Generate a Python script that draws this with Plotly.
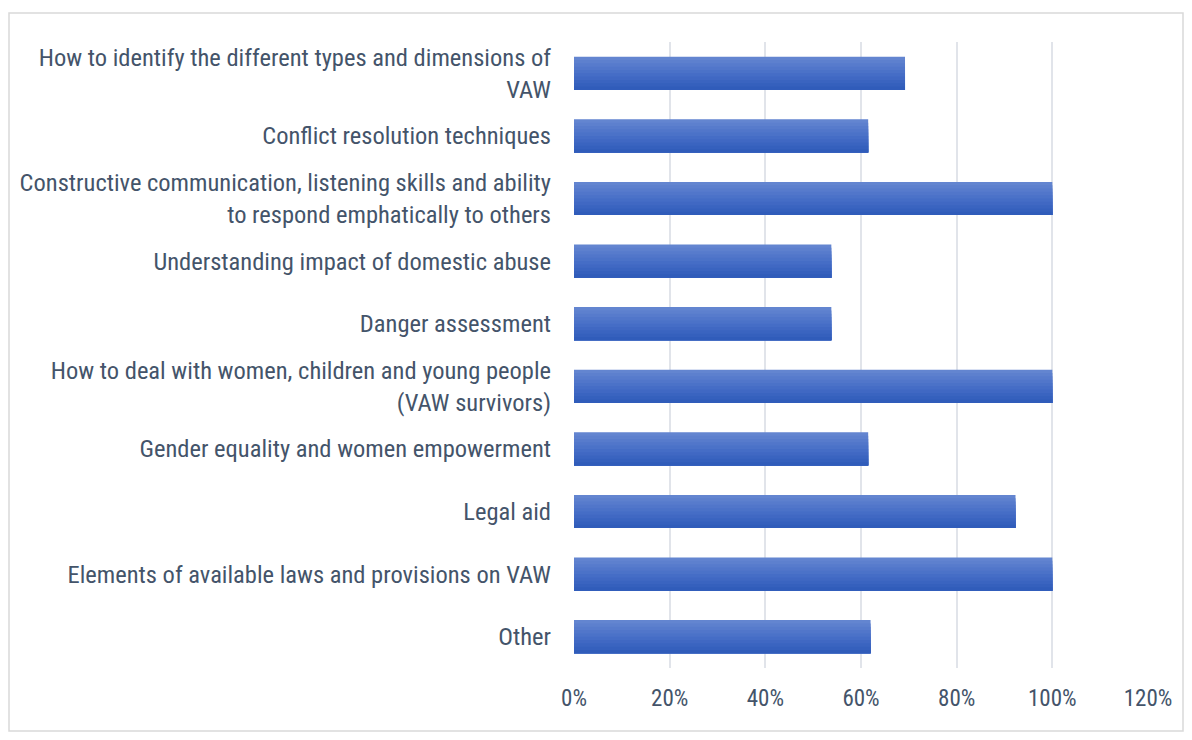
import plotly.graph_objects as go

categories = [
    "How to identify the different types and dimensions of<br>VAW",
    "Conflict resolution techniques",
    "Constructive communication, listening skills and ability<br>to respond emphatically to others",
    "Understanding impact of domestic abuse",
    "Danger assessment",
    "How to deal with women, children and young people<br>(VAW survivors)",
    "Gender equality and women empowerment",
    "Legal aid",
    "Elements of available laws and provisions on VAW",
    "Other",
]
values = [0.692, 0.615, 1.0, 0.538, 0.538, 1.0, 0.615, 0.923, 1.0, 0.62]
x_ticks = [0, 0.2, 0.4, 0.6, 0.8, 1.0, 1.2]
x_tick_labels = ["0%", "20%", "40%", "60%", "80%", "100%", "120%"]

# gradient approximation: layered bands, top (light) to bottom (dark)
stripe_colors = ["#6385D0", "#5D80CE", "#577BCC", "#5176CA", "#4B72C8", "#456DC6",
                 "#4068C3", "#3A64C0", "#3560BD", "#305CBA"]
bar_w = 0.53
n = len(stripe_colors)
sw = bar_w / n

fig = go.Figure()
for i, c in enumerate(stripe_colors):
    fig.add_trace(go.Bar(
        x=values, y=categories, orientation="h",
        marker=dict(color=c, line=dict(width=0)),
        width=bar_w - i * sw, offset=-bar_w / 2 + i * sw,
        hoverinfo="x+y", showlegend=False,
    ))

# page body has an 8px margin; figure coordinates are screen - 8
W, H = 1176, 724
L, R, T, B = 566, 36, 34, 64
pw, ph = W - L - R, H - T - B

fig.update_layout(
    width=W, height=H,
    margin=dict(l=L, r=R, t=T, b=B),
    paper_bgcolor="white", plot_bgcolor="white",
    barmode="overlay",
    font=dict(family="Liberation Sans Narrow, Roboto Condensed, DejaVu Sans Condensed, sans-serif", size=24.5, color="#44546A"),
    xaxis=dict(
        range=[0, 1.2], tickvals=x_ticks, ticktext=x_tick_labels,
        tickfont=dict(size=23),
        showgrid=True, gridcolor="#E1E4EA", gridwidth=2,
        zeroline=False, showline=False, ticks="", ticklabelstandoff=14,
    ),
    yaxis=dict(
        autorange="reversed", showgrid=False, zeroline=False, showline=False,
        ticks="", ticklabelstandoff=22,
    ),
    shapes=[dict(
        type="rect", xref="paper", yref="paper",
        x0=(1 - L) / pw, x1=(1175 - L) / pw,
        y0=(H - B - 723) / ph, y1=(H - B - 5) / ph,
        line=dict(color="#D9D9D9", width=1.5), fillcolor="rgba(0,0,0,0)", layer="below",
    )],
)

fig.write_html("out.html")
